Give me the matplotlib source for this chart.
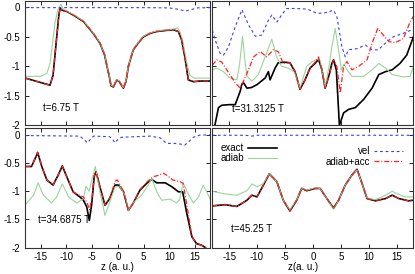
import numpy as np
import matplotlib
matplotlib.use("Agg")
import matplotlib.pyplot as plt

plt.rcParams['font.family'] = ['Liberation Sans', 'DejaVu Sans']
plt.rcParams['axes.unicode_minus'] = False

# ---- panel a: t=6.75 T ----
za_exact = [-18, -16, -13.2, -12.6, -12.0, -11.5, -11.25, -10.8, -9.95, -8.5, -6.7, -4.8, -3.47,
            -2.6, -2.16, -1.6, -1.33, -0.88, -0.22, 0.29, 1.07, 1.6, 2.04, 3.0, 4.0, 4.96, 6.3,
            7.56, 9.5, 10.8, 11.77, 12.4, 13.07, 13.7, 14.7, 16, 18]
va_exact = [-1.2, -1.25, -1.32, -1.15, -0.6, -0.15, -0.02, -0.05, -0.07, -0.14, -0.24, -0.44, -0.61,
            -0.8, -0.98, -1.2, -1.33, -1.35, -1.23, -1.26, -1.37, -1.25, -1.0, -0.72, -0.6, -0.5, -0.44,
            -0.41, -0.39, -0.38, -0.41, -0.55, -0.86, -1.23, -1.26, -1.25, -1.25]
za_adiab = [-18, -15, -13.8, -13.2, -12.7, -12.2, -11.7, -11.1, -10.6, -10, -8.5, -6.7, -4.8, -3.47,
            -2.6, -2.16, -1.6, -1.33, -0.88, -0.22, 0.29, 1.07, 1.6, 2.04, 3.0, 4.0, 4.96, 6.3, 7.56,
            9.5, 10.8, 11.6, 12.0, 12.6, 13.3, 14.0, 14.8, 16, 18]
va_adiab = [-1.17, -1.17, -1.12, -0.95, -0.6, -0.25, -0.05, 0.05, -0.03, -0.06, -0.13, -0.23, -0.43, -0.6,
            -0.79, -0.97, -1.19, -1.32, -1.34, -1.22, -1.25, -1.36, -1.24, -0.99, -0.71, -0.59, -0.49, -0.43, -0.4,
            -0.38, -0.37, -0.35, -0.4, -0.55, -0.9, -1.15, -1.2, -1.2, -1.2]
za_vel = [-18, -10, 0, 5, 10, 11.5, 12.5, 13.3, 14.2, 15.5, 18]
va_vel = [-0.005, -0.005, -0.005, -0.005, -0.01, -0.03, -0.05, -0.06, -0.04, -0.01, -0.005]
za_acc = za_exact
va_acc = va_exact

# ---- panel b: t=31.3125 T ----
zb_exact = [-18, -17.5, -16.9, -16.3, -15.0, -13.9, -13.0, -12.7, -12.4, -11.8, -11.0, -10.0, -8.55,
            -7.96, -7.66, -6.76, -6.2, -5.0, -4.1, -3.2, -2.3, -1.4, -0.5, 0.4, 1.0, 1.6, 2.2, 2.9,
            3.4, 3.7, 4.2, 4.75, 5.5, 6.4, 7.6, 9.1, 10.6, 11.8, 13.0, 14.2, 15.6, 16.8, 18]
vb_exact = [-2.15, -1.98, -1.70, -1.66, -1.65, -1.65, -1.42, -1.30, -1.28, -1.37, -1.36, -1.31, -1.20,
            -1.09, -1.23, -1.03, -0.94, -0.93, -0.94, -1.09, -1.39, -1.23, -1.03, -0.95, -0.88, -1.05, -1.37, -1.15,
            -0.95, -0.89, -1.06, -2.0, -1.79, -1.73, -1.70, -1.56, -1.37, -1.14, -1.09, -1.06, -0.95, -0.81, -0.5]
zb_adiab = [-18, -17.2, -16.0, -14.8, -13.6, -13.1, -12.6, -12.1, -11.8, -10.9, -9.75, -8.55, -7.35,
            -6.5, -5.6, -4.4, -3.3, -2.3, -1.1, -0.2, 0.7, 1.3, 2.2, 2.9, 3.4, 4.0, 4.6, 5.1, 5.6,
            6.1, 7.0, 9.1, 10.6, 11.8, 13.0, 14.2, 16.2, 17.4, 18]
vb_adiab = [-1.06, -1.03, -1.09, -1.2, -1.23, -0.95, -0.49, -0.95, -1.17, -1.25, -1.14, -0.84, -0.54,
            -0.84, -1.0, -1.03, -1.1, -1.37, -1.0, -0.93, -0.88, -0.9, -1.34, -1.0, -0.67, -0.36, -0.72, -1.06, -0.96,
            -1.06, -1.17, -1.17, -1.06, -0.95, -1.03, -1.14, -1.18, -1.17, -1.0]
zb_vel = [-18, -17.5, -16.6, -16.0, -15.1, -13.9, -12.7, -11.5, -10.3, -9.15, -7.96, -7.35, -6.45,
          -5.6, -4.7, -3.0, -1.0, 0.7, 1.9, 3.7, 4.3, 5.2, 5.8, 6.4, 7.9, 9.4, 10.6, 11.7, 13.3,
          14.4, 16.2, 18]
vb_vel = [-0.39, -0.55, -0.78, -0.81, -0.67, -0.33, -0.04, -0.30, -0.49, -0.47, -0.22, -0.13, -0.25,
          -0.13, -0.02, -0.02, -0.03, -0.10, -0.10, -0.05, -0.16, -0.67, -0.84, -0.72, -0.70, -0.64, -0.72, -0.72, -0.58,
          -0.50, -0.44, -0.37]
zb_acc = [-18, -17.2, -16.3, -15.0, -13.9, -13.0, -11.8, -10.6, -9.45, -8.25, -7.1, -6.2, -5.3,
          -4.1, -3.2, -2.3, -1.4, -0.5, 0.4, 1.0, 1.6, 2.2, 2.9, 3.7, 4.3, 4.9, 5.5, 6.1, 7.0,
          8.2, 9.7, 10.6, 11.6, 12.6, 13.6, 14.7, 16.2, 17.4, 18]
vb_acc = [-0.98, -0.89, -0.93, -1.12, -1.28, -1.37, -1.12, -0.84, -0.75, -0.84, -0.72, -0.75, -0.95,
          -0.94, -1.09, -1.39, -1.23, -1.03, -0.93, -0.84, -1.05, -1.37, -1.15, -0.89, -1.0, -1.45, -1.0, -0.92, -1.06,
          -1.0, -0.89, -0.61, -0.36, -0.47, -0.58, -0.6, -0.53, -0.25, -0.15]

# ---- panel c: t=34.6875 T ----
zc_exact = [-18, -16.8, -15.8, -15.6, -14.8, -13.8, -12.6, -11.6, -10.8, -9.95, -8.7, -7.4, -6.7,
            -6.05, -5.55, -5.1, -4.6, -4.25, -3.5, -2.5, -1.6, -0.55, 0.1, 1.1, 2.05, 3.0, 4.3, 5.6,
            6.6, 7.55, 9.2, 10.5, 11.8, 12.6, 13.4, 14.4, 15.3, 16.3, 17.0, 18]
vc_exact = [-0.56, -0.56, -0.36, -0.31, -0.56, -0.8, -0.89, -0.71, -0.55, -0.74, -1.01, -1.1, -1.16,
            -1.28, -1.52, -1.24, -0.74, -0.65, -0.92, -1.25, -1.13, -0.89, -0.89, -1.01, -1.34, -1.21, -0.98, -0.86,
            -0.79, -0.85, -0.85, -0.92, -1.01, -1.01, -1.39, -1.81, -1.93, -1.96, -2.0, -2.1]
zc_adiab = [-18, -16.4, -15.5, -14.5, -12.9, -11.9, -10.8, -9.6, -8.0, -6.7, -6.2, -5.6, -4.4, -3.5,
            -2.5, -1.6, -0.55, 0.4, 1.4, 2.05, 3.0, 4.6, 5.9, 6.6, 7.55, 8.5, 10.2, 11.4, 12.0, 12.7,
            13.8, 14.7, 15.7, 16.6, 17.6, 18]
vc_adiab = [-1.24, -1.07, -0.85, -1.07, -1.21, -1.1, -0.87, -1.1, -1.21, -1.13, -0.91, -1.0, -0.56, -1.0,
            -1.43, -1.2, -0.92, -0.92, -1.07, -1.34, -1.2, -1.07, -0.89, -0.77, -1.01, -1.16, -1.14, -1.21, -1.15, -0.85,
            -1.07, -1.21, -1.1, -0.89, -1.07, -1.15]
zc_vel = [-18, -7.4, -6.6, -5.9, -5.2, -4.7, -1.6, -1.0, -0.55, 0.0, 0.7, 6.3, 8.2, 9.5, 11, 12.1,
          13.0, 14.0, 14.7, 16, 18]
vc_vel = [-0.01, -0.02, -0.08, -0.14, -0.06, -0.02, -0.03, -0.08, -0.14, -0.08, -0.04, -0.02, -0.05, -0.15, -0.15, -0.16,
          -0.18, -0.1, -0.04, 0.0, 0.0]
zc_acc = [-18, -16.8, -15.8, -15.6, -14.8, -13.8, -12.6, -11.6, -10.8, -9.95, -8.7, -7.4, -6.7, -6.0,
          -5.5, -5.0, -4.6, -4.25, -3.5, -2.5, -1.6, -0.5, -0.1, 1.1, 2.05, 3.0, 4.3, 5.6, 6.9, 7.8,
          8.85, 9.6, 10.7, 12.1, 12.7, 13.8, 14.4, 15.3, 16.3, 17.0, 18]
vc_acc = [-0.56, -0.56, -0.36, -0.31, -0.56, -0.8, -0.89, -0.71, -0.55, -0.74, -1.01, -1.08, -1.1, -1.2,
          -1.33, -1.1, -0.72, -0.65, -0.92, -1.25, -1.12, -0.82, -0.8, -1.0, -1.34, -1.21, -0.97, -0.84, -0.74, -0.72,
          -0.68, -0.72, -0.8, -0.83, -0.86, -1.45, -1.81, -1.93, -1.96, -2.0, -2.1]

# ---- panel d: t=45.25 T ----
zd_exact = [-18, -15.7, -13.6, -11.8, -10.9, -10.0, -8.85, -7.8, -6.45, -5.3, -4.1, -2.9, -2.0, -1.1,
            0.4, 1.3, 2.5, 3.7, 4.6, 5.8, 7.0, 7.9, 8.8, 9.7, 11.2, 13.0, 14.2, 15.4, 17.1, 18]
vd_exact = [-1.26, -1.24, -1.27, -1.16, -1.07, -1.1, -0.89, -0.69, -0.83, -1.16, -1.35, -1.16, -0.95, -0.99,
            -0.95, -0.95, -1.13, -1.3, -1.16, -0.89, -0.71, -0.61, -0.86, -1.13, -1.17, -1.13, -1.07, -1.13, -1.17, -1.16]
zd_adiab = [-18, -15.7, -13.6, -11.8, -10.9, -10.0, -8.85, -7.8, -6.45, -5.3, -4.1, -2.9, -2.0, -1.1,
            0.4, 1.3, 2.5, 3.7, 4.6, 5.8, 7.0, 7.9, 8.8, 9.7, 11.2, 13.0, 14.2, 15.4, 16.5, 18]
vd_adiab = [-1.0, -1.05, -1.07, -0.99, -0.87, -0.92, -0.86, -0.69, -0.83, -1.16, -1.33, -1.15, -0.95, -0.98,
            -0.94, -0.95, -1.13, -1.32, -1.16, -0.89, -0.71, -0.62, -0.86, -1.12, -1.15, -1.07, -1.0, -1.06, -1.1, -1.1]
zd_vel = [-18, -12, -11, -10, 0, 18]
vd_vel = [-0.005, -0.005, -0.02, -0.005, -0.005, -0.005]
zd_acc = zd_exact
vd_acc = vd_exact

times = ["t=6.75 T", "t=31.3125 T", "t=34.6875 T", "t=45.25 T"]
label_pos = [(-14.5, -1.70), (-14.5, -1.73), (-15.6, -1.51), (-14.6, -1.67)]
xticks = [-15, -10, -5, 0, 5, 10, 15]
yticks = [-2, -1.5, -1, -0.5, 0]
ytick_labels = ["-2", "-1.5", "-1", "-0.5", "0"]

fig = plt.figure(figsize=(4.15, 2.74), dpi=100)
rects = [[0.0610, 0.5427, 0.4460, 0.4536],
         [0.5116, 0.5427, 0.4846, 0.4536],
         [0.0610, 0.0967, 0.4460, 0.4361],
         [0.5116, 0.0967, 0.4846, 0.4361]]
ytops = [0.107, 0.107, 0.124, 0.124]

panels = [(za_exact, va_exact, za_adiab, va_adiab, za_vel, va_vel, za_acc, va_acc),
          (zb_exact, vb_exact, zb_adiab, vb_adiab, zb_vel, vb_vel, zb_acc, vb_acc),
          (zc_exact, vc_exact, zc_adiab, vc_adiab, zc_vel, vc_vel, zc_acc, vc_acc),
          (zd_exact, vd_exact, zd_adiab, vd_adiab, zd_vel, vd_vel, zd_acc, vd_acc)]

axes = []
for i, p in enumerate(panels):
    ax = fig.add_axes(rects[i])
    ze, ve, zg, vg, zv, vv, zr, vr = p
    l1, = ax.plot(ze, ve, color='black', lw=1.2, label='exact')
    l2, = ax.plot(zg, vg, color='#9ad49a', lw=0.8, label='adiab')
    l3, = ax.plot(zv, vv, color='#3b3bff', lw=0.8, dashes=(2.5, 2.5), label='vel')
    l4, = ax.plot(zr, vr, color='#ff2020', lw=0.9, dashes=(4, 1.5, 0.8, 1.5), label='adiab+acc')
    ax.set_xlim(-18, 18)
    ax.set_ylim(-2, ytops[i])
    ax.set_xticks(xticks)
    ax.set_yticks(yticks)
    ax.set_yticklabels(ytick_labels)
    ax.tick_params(direction='in', top=True, right=True, length=2.6, width=0.6,
                   labelsize=7, pad=3.5, colors='black')
    for s in ax.spines.values():
        s.set_linewidth(0.8)
        s.set_color('#333333')
    if i % 2 == 1:
        ax.tick_params(labelleft=False)
    if i < 2:
        ax.tick_params(labelbottom=False)
    ax.text(label_pos[i][0], label_pos[i][1], times[i], fontsize=7, ha='left', va='center')
    axes.append((ax, [l1, l2, l3, l4]))

ax_c = axes[2][0]
ax_c.set_xlabel("z (a. u.)", fontsize=7)
ax_c.xaxis.set_label_coords(0.497, -0.125)

ax_d, lines = axes[3]
ax_d.set_xlabel("z(a. u.)", fontsize=7)
ax_d.xaxis.set_label_coords(0.451, -0.125)

leg1 = ax_d.legend(handles=lines[:2], loc='upper right', bbox_to_anchor=(0.322, 0.875),
                   frameon=False, markerfirst=False, fontsize=7, handlelength=3.0,
                   handletextpad=0.4, labelspacing=0.05, borderpad=0, borderaxespad=0)
ax_d.add_artist(leg1)
ax_d.legend(handles=lines[2:], loc='upper right', bbox_to_anchor=(0.950, 0.847),
            frameon=False, markerfirst=False, fontsize=7, handlelength=3.0,
            handletextpad=0.4, labelspacing=0.05, borderpad=0, borderaxespad=0)

fig.savefig("out.png", dpi=100)
